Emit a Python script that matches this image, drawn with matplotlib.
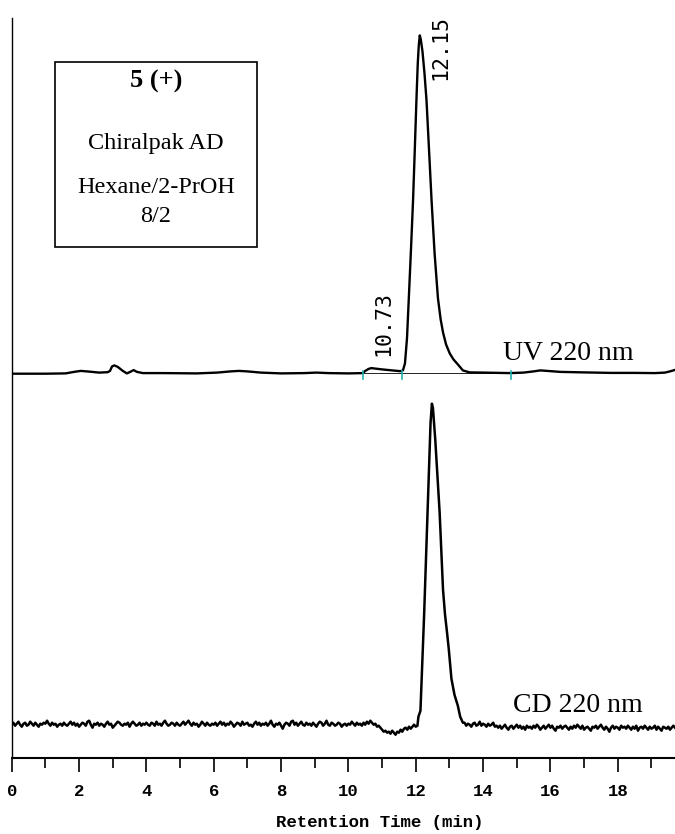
import matplotlib
matplotlib.use("Agg")
import matplotlib.pyplot as plt
import numpy as np
from matplotlib.patches import Rectangle
from matplotlib.ticker import MultipleLocator

# ---------------- data ----------------
# UV 220 nm trace: retention time (min) and signal above its own baseline
UV_T = [0.0, 1.0, 1.6, 1.85, 2.05, 2.3, 2.6, 2.85, 2.92, 2.98, 3.05, 3.15, 3.3,
        3.42, 3.52, 3.62, 3.72, 3.9, 4.5, 5.5, 6.1, 6.5, 6.75, 7.0, 7.4, 8.0,
        8.7, 9.05, 9.4, 10.0, 10.43, 10.5, 10.6, 10.68, 10.8, 11.0, 11.3, 11.55,
        11.62, 11.68, 11.74, 11.79, 11.86, 11.92, 11.97, 12.02, 12.06, 12.09,
        12.12, 12.15, 12.2, 12.26, 12.32, 12.4, 12.47, 12.56, 12.66, 12.74,
        12.81, 12.9, 13.01, 13.12, 13.25, 13.4, 13.6, 14.0, 14.8, 15.2, 15.5,
        15.7, 15.9, 16.3, 17.0, 17.8, 18.5, 19.1, 19.4, 19.55, 19.7]
UV_Y = [-0.3, -0.3, 0.0, 1.5, 2.5, 1.8, 0.8, 1.2, 2.5, 7.0, 8.0, 6.5, 2.5,
        0.0, 1.5, 3.3, 1.5, 0.3, 0.3, 0.0, 0.8, 2.0, 2.5, 2.0, 0.8, 0.0,
        0.3, 0.8, 0.3, 0.0, 0.3, 2.5, 4.5, 5.3, 4.8, 4.0, 3.0, 2.2,
        3.0, 10.0, 35.0, 72.0, 125.0, 173.0, 222.0, 273.0, 310.0, 328.0,
        338.0, 334.0, 322.0, 300.0, 273.0, 220.0, 173.0, 120.0, 75.0, 54.0,
        41.0, 29.0, 20.0, 14.0, 9.0, 3.0, 1.0, 0.8, 0.3, 0.8, 2.0,
        3.0, 2.5, 1.5, 1.0, 0.5, 0.5, 0.3, 0.8, 2.0, 3.5]

# integration marks on the UV trace (min)
UV_MARKS = [10.43, 11.60, 14.84]
UV_BASELINE_SPAN = [10.43, 14.84]

# peak labels
PEAK_LABELS = ["10.73", "12.15"]

# CD 220 nm trace: baseline before the peak, sampled every 0.05 min from 0.0
CD_STEP = 0.05
CD_PRE_START = 0.0
CD_PRE = [0, 2, -1, 1, 3, 0, -2, 1, 2, -1, 0, 3, 1, -1, 2, 0, -2, 1, 0, 2,
          1, 4, 1, -1, 2, 0, 1, -2, 0, 1, -1, 2, 0, -1, 1, 3, 0, 2, -1, 1,
          -2, 0, 2, 1, -1, 3, 4, 0, -3, 1, 0, 2, -1, 1, 0, -2, 1, 3, 0, 1,
          -3, -1, 1, 3, 2, 0, -1, 1, 0, 2, -2, 1, 3, 1, -1, 0, 2, -1, 1, 0,
          2, 0, -1, 2, 1, -1, 3, 0, 1, -1, 2, 4, 1, -1, 0, 2, 1, -1, 2, 0,
          -1, 1, 3, 0, 2, 4, 1, -1, 2, 0, 1, -2, 0, 3, 1, -1, 2, 0, -1, 1,
          0, 2, -1, 1, 3, 0, 2, -1, 1, 0, 3, 1, -2, 0, 2, 1, -1, 3, 0, 1,
          2, -1, 0, -2, 1, 3, 0, 2, -1, 1, 0, 2, -1, 1, 4, 0, -2, 1, 0, 2,
          -1, -4, 0, 2, 1, -1, 3, 4, 0, 2, -1, 1, 3, 0, -1, 2, 0, 1, -1, 2,
          0, -2, 1, 3, 2, -1, 1, 4, 0, -1, 2, 1, -1, 0, 2, 1, -2, 0, 1, -1,
          1, 0, 3, 1, -1, 2, 0, 1, -1, 2, 0, 3, 1, 4, 2, 0, 1, -2, -1, -3,
          -5, -7, -6, -8, -7, -9, -6, -8, -10, -7, -8, -5, -7, -4, -3, -5, -2, -4, -2, 0,
          -2]
# CD peak
CD_PEAK_T = [12.05, 12.08, 12.14, 12.25, 12.35, 12.44, 12.48, 12.51, 12.58,
             12.65, 12.71, 12.77, 12.81, 12.87, 12.93, 12.98, 13.06, 13.15,
             13.25, 13.32, 13.4]
CD_PEAK_Y = [-1, 8, 14, 111, 211, 302, 321, 317, 285,
             245, 212, 165, 135, 110, 92, 76, 46, 30,
             19, 8, 2]
# baseline after the peak, every 0.05 min from 13.45
CD_POST_START = 13.45
CD_POST = [2, -1, 1, 0, -2, 1, 2, -1, 0, 3, -1, 1, 0, -2, 1, -1, 0, 2, -2, -1,
           -3, -1, -4, -2, 0, -3, -5, -2, -1, -4, -2, 0, -3, -1, -4, -2, -5, -1, -3, -2,
           -4, -1, -3, 0, -2, -5, -3, -1, -4, -2, 0, -3, -1, -4, -6, -2, -3, -1, -4, -2,
           -1, -3, -5, -2, -4, -1, -3, 0, -2, -4, -1, -5, -3, -2, -4, -6, -2, -3, -1, -4,
           -2, 0, -3, -5, -2, -4, -7, -3, -1, -4, -2, -3, -5, -1, -3, -2, -4, -1, -3, -5,
           -2, -4, -1, -6, -3, -2, -4, -1, -3, -5, -2, -4, -3, -1, -5, -2, -4, -6, -2, -3,
           -4, -2, -5, -3, -1, -3]

X_TICKS_MAJOR = [0, 2, 4, 6, 8, 10, 12, 14, 16, 18]

# ---------------- layout ----------------
W, H, DPI = 675, 834, 100
UV_OFFSET = 384.3     # vertical offset of UV trace in plot units
CD_OFFSET = 33.0      # vertical offset of CD trace

fig = plt.figure(figsize=(W / DPI, H / DPI), dpi=DPI)
ax_left, ax_right, ax_top, ax_bot = 11.7, 675.0, 18.0, 757.7
ax = fig.add_axes([ax_left / W, 1 - ax_bot / H, (ax_right - ax_left) / W,
                   (ax_bot - ax_top) / H])
ax.set_xlim(0, (ax_right - ax_left) / 33.67)
ax.set_ylim(0, ax_bot - ax_top)

for s in ["top", "right"]:
    ax.spines[s].set_visible(False)
ax.spines["left"].set_linewidth(1.0)
ax.spines["bottom"].set_linewidth(1.5)
ax.set_yticks([])

# UV trace
uv_t = np.array(UV_T)
uv_y = np.array(UV_Y) + UV_OFFSET
ax.plot(uv_t, uv_y, color="black", lw=1.7, solid_joinstyle="round")
ax.plot(UV_BASELINE_SPAN, [UV_OFFSET, UV_OFFSET], color="black", lw=0.6)
for m in UV_MARKS:
    ax.plot([m, m], [UV_OFFSET - 6, UV_OFFSET + 2.5], color="#1fb0b0", lw=1.2)

# CD trace
pre_t = CD_PRE_START + CD_STEP * np.arange(len(CD_PRE))
post_t = CD_POST_START + CD_STEP * np.arange(len(CD_POST))
cd_t = np.concatenate([pre_t, CD_PEAK_T, post_t])
cd_y = np.concatenate([CD_PRE, CD_PEAK_Y, CD_POST]).astype(float) + CD_OFFSET
ax.plot(cd_t, cd_y, color="black", lw=1.8, solid_joinstyle="round")

# peak labels (rotated, monospace)
ax.text(11.04, 434, PEAK_LABELS[0], rotation=90, ha="center", va="center",
        family="DejaVu Sans Mono", fontsize=15.5, clip_on=False)
ax.text(12.72, 710, PEAK_LABELS[1], rotation=90, ha="center", va="center",
        family="DejaVu Sans Mono", fontsize=15.5, clip_on=False)

# x axis
ax.xaxis.set_major_locator(MultipleLocator(2))
ax.xaxis.set_minor_locator(MultipleLocator(1))
ax.set_xticks(X_TICKS_MAJOR)
ax.set_xticklabels([str(v) for v in X_TICKS_MAJOR])
ax.tick_params(axis="x", which="major", direction="out", length=10, width=1.2,
               pad=9)
ax.tick_params(axis="x", which="minor", direction="out", length=7, width=1.2)
for lab in ax.get_xticklabels():
    lab.set_family("Liberation Mono")
    lab.set_fontweight("bold")
    lab.set_fontsize(12.5)


def fx(px):
    return px / W


def fy(py):
    return 1 - py / H


fig.text(fx(380), fy(822), "Retention Time (min)", ha="center", va="center",
         family="Liberation Mono", fontweight="bold", fontsize=12.5)

# trace labels
fig.text(fx(503), fy(360), "UV 220 nm", ha="left", va="baseline",
         family="Liberation Serif", fontsize=20)
fig.text(fx(513), fy(712), "CD 220 nm", ha="left", va="baseline",
         family="Liberation Serif", fontsize=20)

# info box
bx0, by0, bx1, by1 = 55, 62, 257, 247
fig.patches.append(Rectangle((fx(bx0), fy(by1)), (bx1 - bx0) / W,
                             (by1 - by0) / H, transform=fig.transFigure,
                             fill=False, ec="black", lw=1.2))
cx = (bx0 + bx1) / 2
fig.text(fx(cx), fy(81), "5 (+)", ha="center", va="center",
         family="Liberation Serif", fontweight="bold", fontsize=19)
fig.text(fx(cx), fy(143), "Chiralpak AD", ha="center", va="center",
         family="Liberation Serif", fontsize=17.5)
fig.text(fx(cx), fy(188), "Hexane/2-PrOH", ha="center", va="center",
         family="Liberation Serif", fontsize=17.5)
fig.text(fx(cx), fy(217), "8/2", ha="center", va="center",
         family="Liberation Serif", fontsize=17.5)

fig.savefig("out.png", dpi=DPI)
